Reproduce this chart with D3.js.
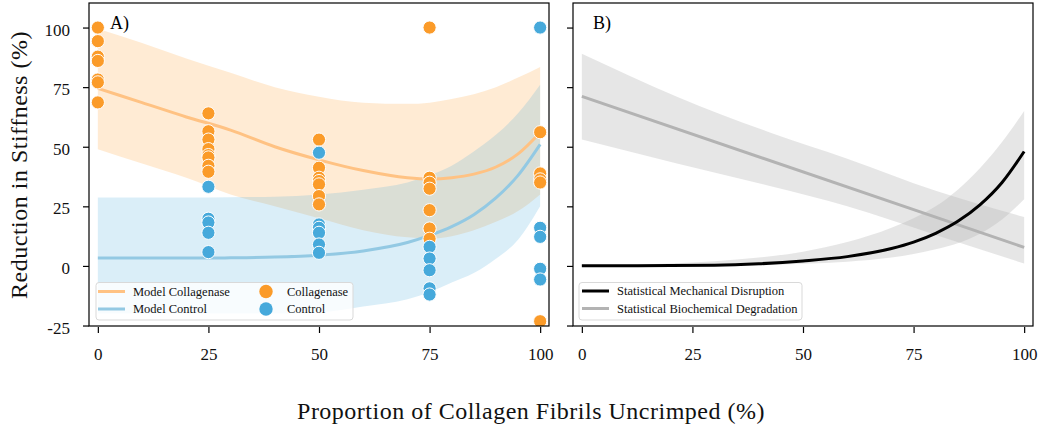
<!DOCTYPE html>
<html>
<head>
<meta charset="utf-8">
<script src="https://cdn.jsdelivr.net/npm/d3@7"></script>
<style>
  body { margin: 0; background: #fff; }
  svg { display: block; font-family: "Liberation Serif", "DejaVu Serif", serif; }
</style>
</head>
<body>
<svg id="chart" width="1039" height="435"></svg>
<script>
// ---- data ----
const xCats = [0, 25, 50, 75, 100];
const collagenaseY = [
  [100, 94.3, 87.8, 86, 78.2, 77, 68.6],
  [64, 56.5, 53, 49, 46.5, 45.5, 42, 39.5],
  [53, 41.2, 37, 35.6, 34.2, 29.3, 25.8],
  [100, 37, 34.9, 32.4, 23.4, 15.7, 11.4],
  [56.1, 38.8, 36.3, 35, -23.2]
];
const controlY = [
  [],
  [33.2, 19.8, 18.2, 13.9, 5.8],
  [47.5, 17.4, 16, 13.9, 9, 5.5],
  [8, 3.1, -1.8, -9.4, -12],
  [100, 16, 12.2, -1.2, -5.7]
];

const modelX = [0, 10, 20, 30, 40, 50, 60, 70, 75, 80, 85, 90, 95, 100];
const modelCollagenase   = [74.5, 68.5, 62.5, 57, 50, 44.5, 40, 37, 36.5, 37, 38.5, 41.5, 47, 56];
const modelCollagenaseHi = [99.5, 93.5, 87, 81, 75, 71, 68.5, 68, 68.5, 70, 72, 75, 79, 83.5];
const modelCollagenaseLo = [49, 43, 37, 30, 25, 20, 15, 12, 11.5, 12.5, 15, 18.5, 23, 30];
const modelControl   = [3.3, 3.3, 3.3, 3.4, 3.7, 4.5, 6.3, 9.8, 12.8, 16.5, 21.5, 28.5, 38, 51];
const modelControlHi = [28.7, 28.7, 28.7, 28.8, 29, 30, 32, 35, 38, 42, 48, 55, 64, 76];
const modelControlLo = [-20, -20, -20, -20, -20, -19.5, -17, -14, -11, -7, -3, 3, 11, 25];

const mechanical   = [0.1, 0.1, 0.2, 0.3, 0.9, 2.1, 3.9, 7.3, 10, 13.7, 18.7, 25.6, 35, 48];
const mechanicalHi = [0.3, 0.5, 1, 2, 3.5, 6, 10, 16, 20, 25, 32, 41, 52, 65];
const mechanicalLo = [0, 0, 0, 0, 0.3, 0.9, 1.8, 3.5, 5, 7, 9.5, 13.5, 19.5, 28];

const bioX = [0, 100];
const biochemical = [71.1, 7.8];
const bioBandX = [0, 21.5, 42.5, 60, 80, 100];
const biochemicalHi = [89, 71, 56, 45, 31.5, 20.5];
const biochemicalLo = [53, 43, 33.5, 25, 13, 1];

const yTicks = [-25, 0, 25, 50, 75, 100];

// ---- colours ----
const orange = "#fb9b29", blue = "#46a9db";
const orangeLine = "#ffc283", blueLine = "#93c9e3";

const svg = d3.select("#chart");
const plotTop = 3, plotBottom = 326;
const y = d3.scaleLinear().domain([-25.2, 110.3]).range([plotBottom, plotTop]);
const xA = d3.scaleLinear().domain([-2, 102]).range([89, 549]);
const xB = d3.scaleLinear().domain([-2, 102]).range([573, 1033]);

function clip(id, x) {
  svg.append("clipPath").attr("id", id).append("rect")
    .attr("x", x.range()[0]).attr("y", plotTop)
    .attr("width", x.range()[1] - x.range()[0]).attr("height", plotBottom - plotTop);
}
clip("clipA", xA);
clip("clipB", xB);

function band(g, x, xs, lo, hi, fill, op) {
  g.append("path")
    .datum(xs.map((d, i) => [d, lo[i], hi[i]]))
    .attr("fill", fill).attr("fill-opacity", op)
    .attr("d", d3.area().curve(d3.curveMonotoneX).x(d => x(d[0])).y0(d => y(d[1])).y1(d => y(d[2])));
}
function line(g, x, xs, ys, color, w) {
  g.append("path")
    .datum(xs.map((d, i) => [d, ys[i]]))
    .attr("fill", "none").attr("stroke", color).attr("stroke-width", w)
    .attr("d", d3.line().curve(d3.curveMonotoneX).x(d => x(d[0])).y(d => y(d[1])));
}

// ---- panel A ----
const gA = svg.append("g").attr("clip-path", "url(#clipA)");
band(gA, xA, modelX, modelCollagenaseLo, modelCollagenaseHi, "#ff9d2a", 0.2);
band(gA, xA, modelX, modelControlLo, modelControlHi, "#45aadc", 0.2);
line(gA, xA, modelX, modelCollagenase, orangeLine, 3);
line(gA, xA, modelX, modelControl, blueLine, 3);

const dotsC = xCats.flatMap((x, i) => collagenaseY[i].map(v => [x, v]));
const dotsK = xCats.flatMap((x, i) => controlY[i].map(v => [x, v]));
gA.selectAll(".dc").data(dotsC).enter().append("circle")
  .attr("cx", d => xA(d[0])).attr("cy", d => y(d[1])).attr("r", 6.6)
  .attr("fill", orange).attr("stroke", "#fff").attr("stroke-width", 1);
gA.selectAll(".dk").data(dotsK).enter().append("circle")
  .attr("cx", d => xA(d[0])).attr("cy", d => y(d[1])).attr("r", 6.6)
  .attr("fill", blue).attr("stroke", "#fff").attr("stroke-width", 1);

// ---- panel B ----
const gB = svg.append("g").attr("clip-path", "url(#clipB)");
band(gB, xB, modelX, mechanicalLo, mechanicalHi, "#b0b0b0", 0.32);
band(gB, xB, bioBandX, biochemicalLo, biochemicalHi, "#b0b0b0", 0.32);
line(gB, xB, bioX, biochemical, "#b3b3b3", 3);
line(gB, xB, modelX, mechanical, "#000", 3);

// ---- frames and axes ----
function axes(x, labels) {
  svg.append("rect")
    .attr("x", x.range()[0]).attr("y", plotTop)
    .attr("width", x.range()[1] - x.range()[0]).attr("height", plotBottom - plotTop)
    .attr("fill", "none").attr("stroke", "#000").attr("stroke-width", 1.2);

  const gx = svg.append("g").attr("transform", `translate(0,${plotBottom + 1})`)
    .call(d3.axisBottom(x).tickValues(xCats).tickSize(6).tickPadding(15));
  const gy = svg.append("g").attr("transform", `translate(${x.range()[0]},0)`)
    .call(d3.axisLeft(y).tickValues(yTicks).tickSize(6).tickPadding(13)
      .tickFormat(labels ? d => String(d) : () => ""));
  [gx, gy].forEach(g => {
    g.select(".domain").remove();
    g.selectAll("line").attr("stroke", "#000").attr("stroke-width", 1.2);
    g.selectAll("text").attr("font-family", "Liberation Serif").attr("font-size", 17).attr("fill", "#111");
  });
  gy.selectAll("text").attr("dy", "0.45em");
}
axes(xA, true);
axes(xB, false);

svg.append("text").attr("x", 110).attr("y", 29).attr("font-size", 18).text("A)");
svg.append("text").attr("x", 593).attr("y", 29).attr("font-size", 18).text("B)");

svg.append("text")
  .attr("transform", "translate(27,165) rotate(-90)")
  .attr("text-anchor", "middle").attr("font-size", 24).attr("letter-spacing", 0.5).attr("fill", "#111")
  .text("Reduction in Stiffness (%)");
svg.append("text")
  .attr("x", 531).attr("y", 419)
  .attr("text-anchor", "middle").attr("font-size", 24).attr("letter-spacing", 0.5).attr("fill", "#111")
  .text("Proportion of Collagen Fibrils Uncrimped (%)");

// ---- legends ----
function legendBox(x0, x1) {
  svg.append("rect").attr("x", x0).attr("y", 282.5).attr("width", x1 - x0).attr("height", 37.5)
    .attr("rx", 3).attr("fill", "#fff").attr("fill-opacity", 0.8)
    .attr("stroke", "#d9d9d9").attr("stroke-width", 1);
}
function legendLine(x, yy, color, label) {
  svg.append("line").attr("x1", x).attr("x2", x + 27).attr("y1", yy).attr("y2", yy)
    .attr("stroke", color).attr("stroke-width", 3);
  svg.append("text").attr("x", x + 35).attr("y", yy + 4).attr("font-size", 12.5).attr("fill", "#111").text(label);
}
function legendDot(x, yy, color, label) {
  svg.append("circle").attr("cx", x).attr("cy", yy).attr("r", 6.7).attr("fill", color);
  svg.append("text").attr("x", x + 21).attr("y", yy + 4).attr("font-size", 12.5).attr("fill", "#111").text(label);
}
legendBox(96, 353);
legendLine(98, 291.5, orangeLine, "Model Collagenase");
legendLine(98, 309, blueLine, "Model Control");
legendDot(266, 291.5, orange, "Collagenase");
legendDot(266, 309, blue, "Control");

legendBox(579, 802);
legendLine(582, 291, "#000", "Statistical Mechanical Disruption");
legendLine(582, 308.5, "#b3b3b3", "Statistical Biochemical Degradation");
</script>
</body>
</html>
